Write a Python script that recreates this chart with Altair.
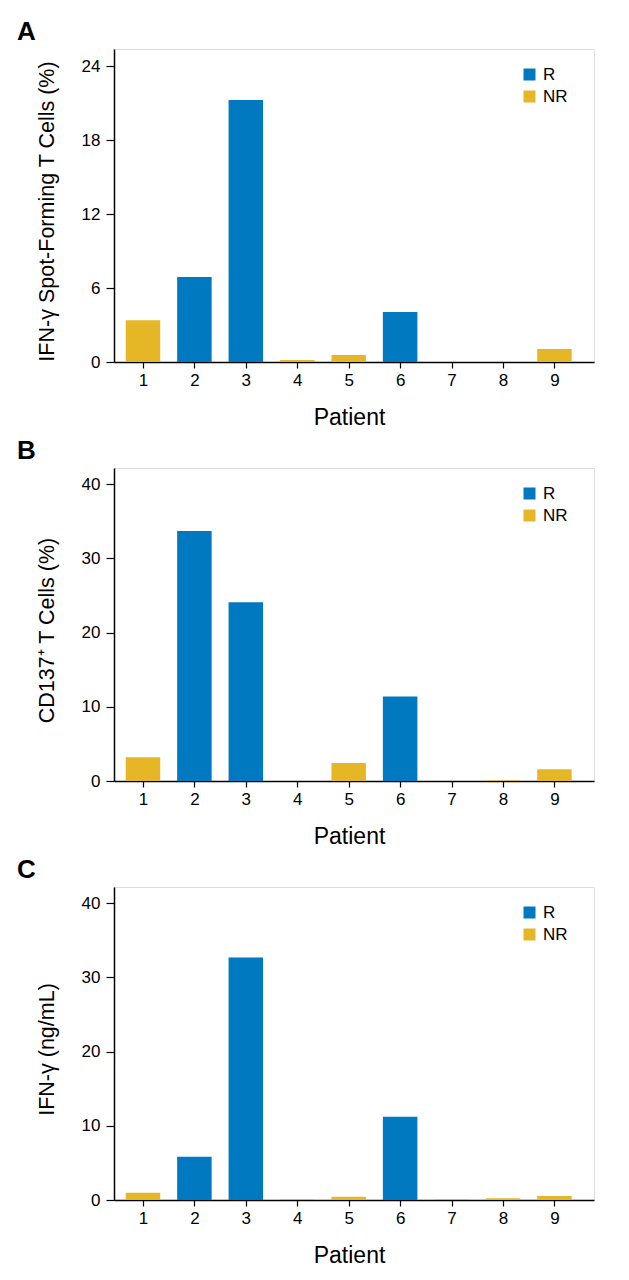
import altair as alt
import pandas as pd

patients = [1, 2, 3, 4, 5, 6, 7, 8, 9]
groups = ["NR", "R", "R", "NR", "NR", "R", "NR", "NR", "NR"]
spot_forming = [3.38, 6.9, 21.27, 0.16, 0.57, 4.05, 0.0, 0.0, 1.05]
cd137 = [3.2, 33.7, 24.1, 0.0, 2.43, 11.4, 0.0, 0.1, 1.58]
ifn_conc = [0.99, 5.84, 32.7, 0.15, 0.45, 11.24, 0.15, 0.25, 0.54]

panel_letters = ["A", "B", "C"]
y_titles = ["IFN-γ Spot-Forming T Cells (%)", "CD137⁺ T Cells (%)", "IFN-γ (ng/mL)"]
y_ticks_a = [0, 6, 12, 18, 24]
y_ticks_bc = [0, 10, 20, 30, 40]
group_order = ["R", "NR"]
group_colors = ["#0079C1", "#E5B726"]

FONT = "Liberation Sans"


def panel(values, letter, ytitle, ymax, ticks):
    df = pd.DataFrame({"Patient": patients, "Value": values, "Group": groups})
    title = alt.TitleParams(
        letter, anchor="start", frame="group", dx=-97, fontSize=26,
        font=FONT, fontWeight="bold", offset=4, color="black",
    )
    return (
        alt.Chart(df, title=title)
        .mark_bar(size=34.5, orient="vertical")
        .encode(
            x=alt.X(
                "Patient:Q",
                scale=alt.Scale(domain=[0.534, 9.672], nice=False, zero=False),
                axis=alt.Axis(
                    values=patients, format="d", title="Patient", grid=False,
                    tickSize=6, tickWidth=1.2, tickColor="black",
                    domainColor="black", domainWidth=1.5,
                    labelPadding=4, labelFontSize=17, labelFont=FONT, labelColor="black",
                    titleX=235, titleY=44, titleBaseline="top",
                    titleFontSize=23, titleFont=FONT, titleFontWeight="normal", titleColor="black",
                ),
            ),
            y=alt.Y(
                "Value:Q",
                scale=alt.Scale(domain=[0, ymax], nice=False),
                axis=alt.Axis(
                    values=ticks, title=ytitle, grid=False,
                    tickSize=8, tickWidth=1.2, tickColor="black",
                    domainColor="black", domainWidth=1.5,
                    labelPadding=6, labelFontSize=17, labelFont=FONT, labelColor="black",
                    titleX=-56, titleY=162, titleFontSize=21.5, titleFont=FONT,
                    titleFontWeight="normal", titleColor="black",
                ),
            ),
            color=alt.Color(
                "Group:N",
                scale=alt.Scale(domain=group_order, range=group_colors),
                legend=alt.Legend(
                    title=None, orient="none", legendX=407, legendY=17,
                    symbolType="square", symbolSize=144, symbolStrokeWidth=0,
                    labelFontSize=17, labelFont=FONT, labelColor="black",
                    labelOffset=5, rowPadding=4, padding=0,
                ),
            ),
        )
        .properties(width=480, height=313)
    )


chart = (
    alt.vconcat(
        panel(spot_forming, panel_letters[0], y_titles[0], 25.4, y_ticks_a),
        panel(cd137, panel_letters[1], y_titles[1], 42.2, y_ticks_bc),
        panel(ifn_conc, panel_letters[2], y_titles[2], 42.2, y_ticks_bc),
        spacing=7,
    )
    .resolve_legend(color="independent")
    .properties(padding={"top": 10, "left": 8, "right": 5, "bottom": 5})
    .configure_view(strokeWidth=0)
    .configure(background="white")
)

chart.save("out.html", embed_options={"renderer": "svg", "actions": False})
